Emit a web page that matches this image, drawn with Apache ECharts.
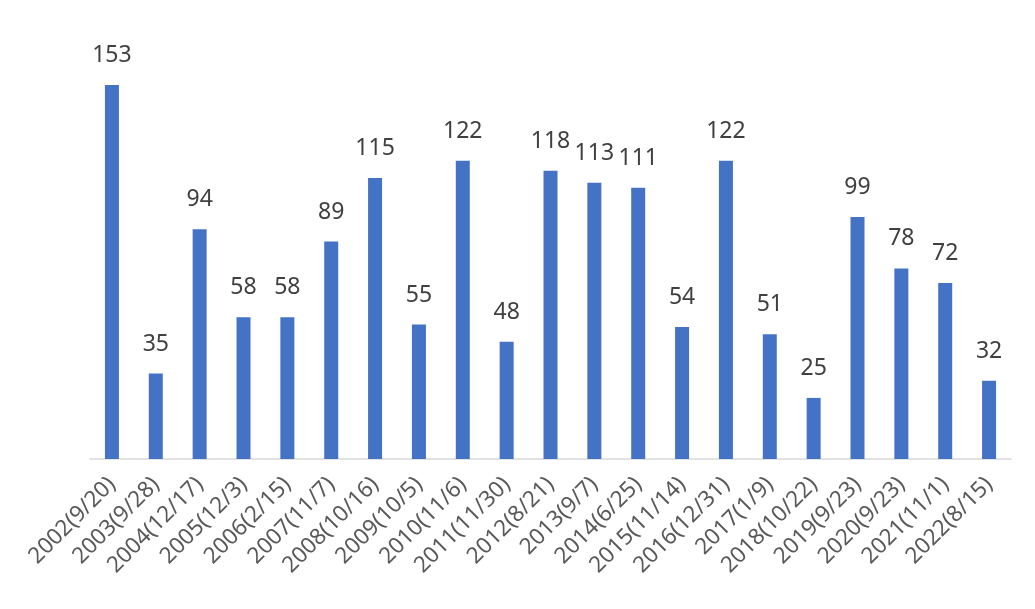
<!DOCTYPE html>
<html>
<head>
<meta charset="utf-8">
<script src="https://cdn.jsdelivr.net/npm/echarts@6/dist/echarts.min.js"></script>
<style>html,body{margin:0;padding:0;background:#fff;}#c{width:1035px;height:609px;}</style>
</head>
<body>
<div id="c"></div>
<script>
const categories = ["2002(9/20)","2003(9/28)","2004(12/17)","2005(12/3)","2006(2/15)","2007(11/7)","2008(10/16)","2009(10/5)","2010(11/6)","2011(11/30)","2012(8/21)","2013(9/7)","2014(6/25)","2015(11/14)","2016(12/31)","2017(1/9)","2018(10/22)","2019(9/23)","2020(9/23)","2021(11/1)","2022(8/15)"];
const values = [153,35,94,58,58,89,115,55,122,48,118,113,111,54,122,51,25,99,78,72,32];

const chart = echarts.init(document.getElementById('c'), null, {renderer:'canvas'});
chart.setOption({
  animation: false,
  backgroundColor: '#ffffff',
  grid: {left: 90, right: 24, top: 68, bottom: 150, containLabel: false},
  xAxis: {
    type: 'category',
    data: categories,
    axisLine: {show: true, lineStyle: {color: '#d9d9d9', width: 1.5}},
    axisTick: {show: false},
    axisLabel: {rotate: 45, interval: 0, margin: 22, color: '#595959', fontSize: 22.5, fontFamily: 'Noto Sans'}
  },
  yAxis: {
    type: 'value', min: 0, max: 160,
    show: false, splitLine: {show: false}
  },
  series: [{
    type: 'bar',
    data: values,
    barWidth: 14,
    itemStyle: {color: '#4472C4'},
    label: {show: true, position: 'top', distance: 18, color: '#404040', fontSize: 23, fontFamily: 'Noto Sans'}
  }]
});
</script>
</body>
</html>
